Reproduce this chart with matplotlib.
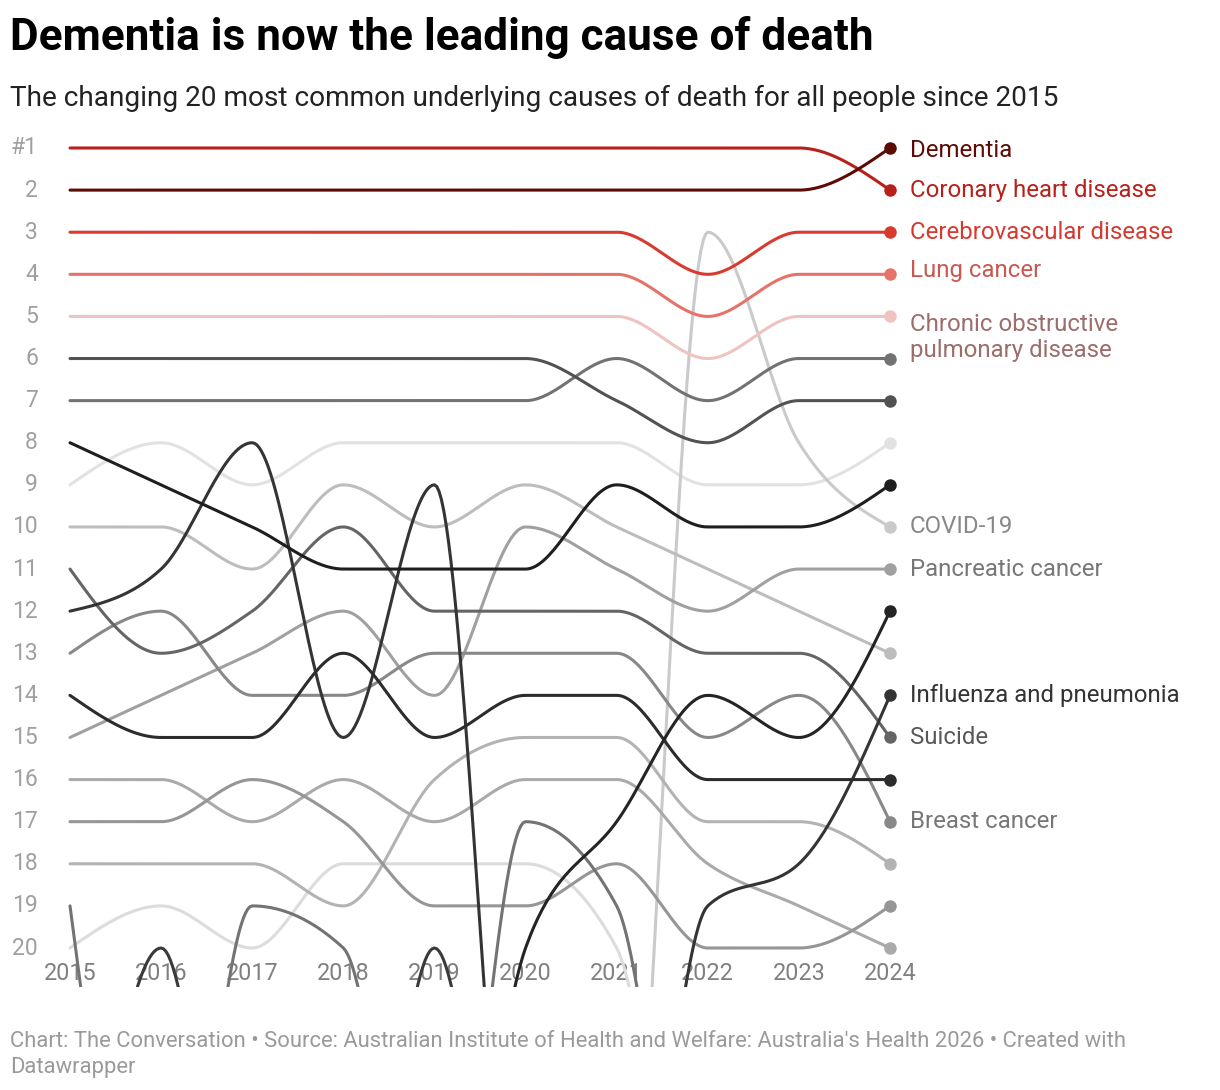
import numpy as np
import matplotlib
matplotlib.use("Agg")
import matplotlib.pyplot as plt

plt.rcParams['font.family'] = ['Roboto', 'DejaVu Sans']

# ---- data: rank per year, 30 = outside the top 20 (drawn off the bottom) ----
years = [2015, 2016, 2017, 2018, 2019, 2020, 2021, 2022, 2023, 2024]

dementia = [2, 2, 2, 2, 2, 2, 2, 2, 2, 1]
coronary = [1, 1, 1, 1, 1, 1, 1, 1, 1, 2]
cerebrovascular = [3, 3, 3, 3, 3, 3, 3, 4, 3, 3]
lung_cancer = [4, 4, 4, 4, 4, 4, 4, 5, 4, 4]
copd = [5, 5, 5, 5, 5, 5, 5, 6, 5, 5]
covid = [30, 30, 30, 30, 30, 30, 30, 3, 8, 10]
pancreatic = [15, 14, 13, 12, 14, 10, 11, 12, 11, 11]
influenza = [12, 11, 8, 15, 9, 30, 30, 19, 18, 14]
suicide = [11, 13, 12, 10, 12, 12, 12, 13, 13, 15]
breast = [13, 12, 14, 14, 13, 13, 13, 15, 14, 17]
other_a = [6, 6, 6, 6, 6, 6, 7, 8, 7, 7]
other_b = [7, 7, 7, 7, 7, 7, 6, 7, 6, 6]
other_c = [8, 9, 10, 11, 11, 11, 9, 10, 10, 9]
other_d = [9, 8, 9, 8, 8, 8, 8, 9, 9, 8]
other_e = [10, 10, 11, 9, 10, 9, 10, 11, 12, 13]
other_f = [14, 15, 15, 13, 15, 14, 14, 16, 16, 16]
other_g = [16, 16, 17, 16, 17, 16, 16, 18, 19, 20]
other_h = [17, 17, 16, 17, 19, 19, 18, 20, 20, 19]
other_i = [18, 18, 18, 19, 16, 15, 15, 17, 17, 18]
other_j = [19, 30, 19, 20, 30, 17, 19, 30, 30, 30]
other_k = [20, 19, 20, 18, 18, 18, 20, 30, 30, 30]
other_l = [30, 30, 30, 30, 30, 20, 17, 14, 15, 12]
other_m = [30, 20, 30, 30, 20, 30, 30, 30, 30, 30]

# drawing order (back to front), colours and end labels
series = [other_k, other_d, covid, other_e, other_i, other_g, pancreatic,
          other_h, breast, other_j, suicide, other_b, other_a, other_m,
          influenza, other_f, other_l, other_c,
          copd, lung_cancer, cerebrovascular, coronary, dementia]
colors = ['#dcdcdc', '#e2e2e2', '#cacaca', '#bdbdbd', '#b3b3b3', '#aaaaaa', '#a0a0a0',
          '#969696', '#888888', '#737373', '#656565', '#727272', '#525252', '#3a3a3a',
          '#343434', '#2c2c2c', '#242424', '#1e1e1e',
          '#efc3bf', '#e5736a', '#d83a2f', '#b8201a', '#5c0b05']
labels = ['', '', 'COVID-19', '', '', '', 'Pancreatic cancer',
          '', 'Breast cancer', '', 'Suicide', '', '', '',
          'Influenza and pneumonia', '', '', '',
          'Chronic obstructive\npulmonary disease', 'Lung cancer',
          'Cerebrovascular disease', 'Coronary heart disease', 'Dementia']
label_colors = {'COVID-19': '#888888', 'Pancreatic cancer': '#777777',
                'Breast cancer': '#777777', 'Suicide': '#585858',
                'Influenza and pneumonia': '#333333',
                'Chronic obstructive\npulmonary disease': '#9c6d6a',
                'Lung cancer': '#c95850', 'Cerebrovascular disease': '#d43a2f',
                'Coronary heart disease': '#b8201a', 'Dementia': '#5c0b05'}
label_shift = {'Dementia': 0.05, 'Lung cancer': -0.1,
               'Chronic obstructive\npulmonary disease': 0.5}

rank_ticks = list(range(1, 21))
rank_tick_labels = ['#1'] + [str(r) for r in range(2, 21)]


def monotone_x(x, y, n=40):
    """same curve as d3.curveMonotoneX"""
    x = np.asarray(x, float)
    y = np.asarray(y, float)
    k = len(x)
    h = np.diff(x)
    s = np.diff(y) / h
    t = np.zeros(k)
    sg = lambda v: -1.0 if v < 0 else 1.0
    for i in range(1, k - 1):
        p = (s[i - 1] * h[i] + s[i] * h[i - 1]) / (h[i - 1] + h[i])
        t[i] = (sg(s[i - 1]) + sg(s[i])) * min(abs(s[i - 1]), abs(s[i]), 0.5 * abs(p))
    t[0] = (3 * s[0] - t[1]) / 2
    t[-1] = (3 * s[-1] - t[-2]) / 2
    xs, ys = [x[0]], [y[0]]
    u = np.linspace(0, 1, n)[1:]
    for i in range(k - 1):
        dx = h[i] / 3
        px = [x[i], x[i] + dx, x[i + 1] - dx, x[i + 1]]
        py = [y[i], y[i] + dx * t[i], y[i + 1] - dx * t[i + 1], y[i + 1]]
        b = [(1 - u) ** 3, 3 * u * (1 - u) ** 2, 3 * u ** 2 * (1 - u), u ** 3]
        xs.extend(sum(bb * pp for bb, pp in zip(b, px)))
        ys.extend(sum(bb * pp for bb, pp in zip(b, py)))
    return np.array(xs), np.array(ys)


W, H = 1220, 1090
fig = plt.figure(figsize=(W / 100, H / 100), dpi=100)

# pixel layout: 2015 at x=70, 2024 at x=890, rank 1 at y=148, rank 20 at y=948
xstep = (890 - 70) / 9
ystep = (948 - 148) / 19
top_px, bot_px = 125, 987
ax = fig.add_axes([(70 - xstep / 2) / W, 1 - bot_px / H, 10 * xstep / W, (bot_px - top_px) / H])
ax.set_xlim(2014.5, 2024.5)
ax.set_ylim(20 + (bot_px - 948) / ystep, 1 + (top_px - 148) / ystep)
ax.axis('off')

for i, (ranks, col) in enumerate(zip(series, colors)):
    xs, ys = monotone_x(years, ranks)
    ax.plot(xs, ys, color=col, lw=2.2, solid_capstyle='round', zorder=3 + i * 0.01)
    if ranks[-1] <= 20:
        ax.plot(years[-1], ranks[-1], 'o', ms=9, color=col, mec='none',
                clip_on=False, zorder=4 + i * 0.01)
    if labels[i]:
        ax.text(years[-1] + 20 / xstep, ranks[-1] + label_shift.get(labels[i], 0), labels[i],
                color=label_colors[labels[i]], fontsize=17.3, ha='left', va='center',
                linespacing=1.15, clip_on=False)

for r, lab in zip(rank_ticks, rank_tick_labels):
    ax.text(2015 + (38 - 70) / xstep, r, lab, ha='right', va='center',
            fontsize=16.5, color='#a0a0a0', zorder=1, clip_on=False)
for yr in years:
    ax.text(yr, 20 + (973 - 948) / ystep, str(yr), ha='center', va='center',
            fontsize=16.8, color='#808080', zorder=1)

fig.text(10 / W, 1 - 50 / H, 'Dementia is now the leading cause of death',
         fontsize=31.8, fontweight='bold', color='#000000', va='baseline')
fig.text(10 / W, 1 - 106 / H,
         'The changing 20 most common underlying causes of death for all people since 2015',
         fontsize=20.2, color='#222222', va='baseline')
fig.text(10 / W, 1 - 1047 / H,
         'Chart: The Conversation \u2022 Source: Australian Institute of Health and Welfare: '
         "Australia's Health 2026 \u2022 Created with",
         fontsize=15.85, color='#9a9a9a', va='baseline')
fig.text(10 / W, 1 - 1073 / H, 'Datawrapper', fontsize=15.85, color='#9a9a9a', va='baseline')

fig.savefig('out.png', dpi=100, facecolor='white')
